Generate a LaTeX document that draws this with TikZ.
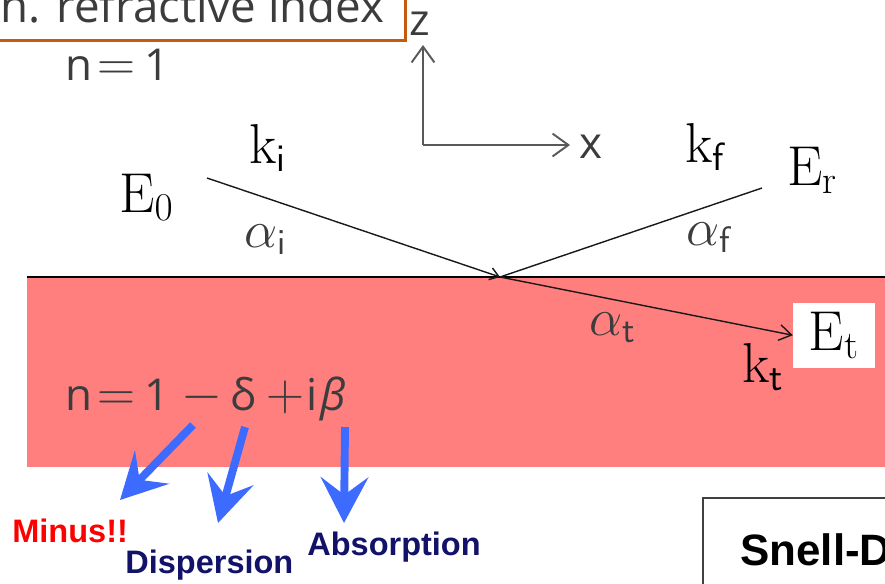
\RequirePackage{fix-cm}
\documentclass[tikz,border=0pt]{standalone}
\usepackage{fontspec}
\usepackage{graphicx}
\usetikzlibrary{arrows.meta}
\newfontfamily\osans{Open Sans}
\newfontfamily\arialf{Liberation Sans}
\definecolor{rim}{RGB}{197,90,17}
\definecolor{pinkbg}{RGB}{255,127,127}
\definecolor{arrblue}{RGB}{61,107,255}
\definecolor{navy}{RGB}{18,18,104}
\definecolor{txtgray}{RGB}{60,60,60}
\newcommand{\bigop}[1]{{\fontsize{30}{30}\selectfont$#1$}}

\begin{document}
\begin{tikzpicture}[x=0.02cm, y=-0.02cm,
    ray/.style={draw=black!90, line width=0.8pt},
    axis/.style={draw=black!65, line width=1.1pt, -{Straight Barb[length=9pt,width=13pt]}},
    blarr/.style={draw=arrblue, line width=4.5pt, -{Stealth[length=26pt,width=27pt,inset=10pt]}},
    glbl/.style={font=\osans\fontsize{25}{28}\selectfont, text=txtgray, inner sep=0pt},
    mlbl/.style={font=\fontsize{32}{36}\selectfont, inner sep=0pt},
    alab/.style={font=\fontsize{30}{34}\selectfont, text=txtgray, inner sep=0pt},
    note/.style={font=\arialf\bfseries\fontsize{18.5}{22}\selectfont, inner sep=0pt},
    titlebox/.style={draw=rim, line width=1.7pt, fill=white, text=txtgray,
      font=\osans\fontsize{26}{30}\selectfont, inner xsep=12pt, inner ysep=10pt}]
  \useasboundingbox (0,0) rectangle (885,583);
  \clip (0,0) rectangle (885,583);

  \fill[pinkbg] (27,277) rectangle (885,467);
  \draw[line width=1.4pt] (27,277) -- (885,277);

  \node[titlebox, anchor=base east] (title) at (407,22) {n. refractive index};
  \node[glbl, anchor=base west] (nvac) at (65,80) {n\hspace{3pt}\bigop{=}\hspace{5pt}1};

  \coordinate (orig) at (423,145);
  \coordinate (ztip) at (423,45);
  \coordinate (xtip) at (570,145);
  \node[glbl, anchor=base west] (zlab) at (409,35) {z};
  \node[glbl, anchor=base west] (xlab) at (579,158) {x};
  \draw[axis] (orig) -- (ztip);
  \draw[axis] (orig) -- (xtip);

  \node[mlbl, anchor=base west] (e0) at (119,212) {$\mathrm{E}_0$};
  \node[mlbl, anchor=base west] (ki) at (249,163) {$\mathrm{k}_{\mathsf{i}}$};
  \node[alab, anchor=base west] (ai) at (244,247) {$\alpha_{\mathsf{i}}$};
  \node[mlbl, anchor=base west] (kf) at (685,162) {$\mathrm{k}_{\mathsf{f}}$};
  \node[mlbl, anchor=base west] (er) at (787,185) {$\mathrm{E}_{\mathrm{r}}$};
  \node[alab, anchor=base west] (af) at (686,245) {$\alpha_{\mathsf{f}}$};
  \node[alab, anchor=base west] (at) at (589,335) {$\alpha_{\mathsf{t}}$};
  \node[mlbl, anchor=base west] (kt) at (742,382) {$\mathrm{k}_{\mathsf{t}}$};
  \node[mlbl, anchor=base, fill=white, inner xsep=9pt, inner ysep=5pt] (et) at (834,350) {$\mathrm{E}_{\mathrm{t}}$};

  \coordinate (src) at (207,178);
  \coordinate (hit) at (500,277);
  \coordinate (rend) at (762,188);
  \draw[ray, -{Straight Barb[length=5pt,width=7pt]}] (src) -- (hit);
  \draw[ray] (hit) -- (rend);
  \draw[ray, -{Straight Barb[length=7pt,width=9pt]}] (hit) -- (et.west);

  \node[glbl, anchor=base west] (nmed) at (65,410)
    {n\hspace{3pt}\bigop{=}\hspace{5pt}1\hspace{7pt}\bigop{-}\hspace{4.5pt}δ\hspace{6pt}\bigop{+}\hspace{1pt}i\hspace{1.5pt}{\itshape β}};

  \coordinate (s1) at (193,425);
  \coordinate (s2) at (245,427);
  \coordinate (s3) at (345,427);
  \coordinate (t1) at (120,500);
  \coordinate (t2) at (218,523);
  \coordinate (t3) at (344,523);
  \draw[blarr] (s1) -- (t1);
  \draw[blarr] (s2) -- (t2);
  \draw[blarr] (s3) -- (t3);

  \node[note, text=red, anchor=base west] (minus) at (12,542) {Minus!!};
  \node[note, text=navy, anchor=base west] (disp) at (125,573) {Dispersion};
  \node[note, text=navy, anchor=base west] (abs) at (307,555) {Absorption};

  \draw[draw=black!75, line width=1pt] (703,498) rectangle (900,600);
  \node[note, font=\arialf\bfseries\fontsize{25}{28}\selectfont, anchor=base west] (snell) at (740,565) {Snell-D};
\end{tikzpicture}
\end{document}
